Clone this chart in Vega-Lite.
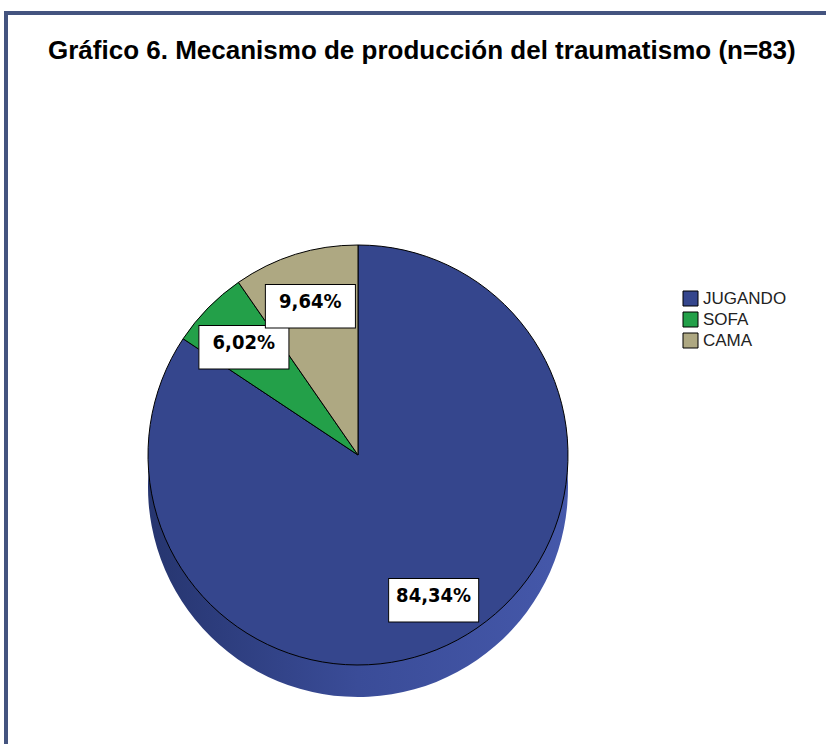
{
  "$schema": "https://vega.github.io/schema/vega-lite/v6.json",
  "autosize": {"type": "none"},
  "width": 823,
  "height": 734,
  "padding": {"left": 6, "top": 13, "right": -3, "bottom": -3},
  "background": "white",
  "view": {"stroke": "#44547f", "strokeWidth": 4, "fill": "white"},
  "config": {
    "view": {"stroke": "#44547f", "strokeWidth": 4},
    "font": "Liberation Sans"
  },
  "title": {
    "text": "Gráfico 6. Mecanismo de producción del traumatismo (n=83)",
    "anchor": "start",
    "frame": "group",
    "orient": "top",
    "baseline": "top",
    "offset": -51,
    "dx": 42,
    "font": "Liberation Sans",
    "fontSize": 26,
    "fontWeight": "bold",
    "color": "#000000"
  },
  "data": {
    "values": [
      {"categoria": "JUGANDO", "n": 70, "orden": 1, "etiqueta": "84,34%"},
      {"categoria": "SOFA", "n": 5, "orden": 2, "etiqueta": "6,02%"},
      {"categoria": "CAMA", "n": 8, "orden": 3, "etiqueta": "9,64%"}
    ]
  },
  "encoding": {
    "theta": {"field": "n", "type": "quantitative", "stack": true},
    "order": {"field": "orden", "type": "quantitative"}
  },
  "layer": [
    {
      "mark": {
        "type": "arc",
        "outerRadius": 210,
        "x": 352,
        "y": 442,
        "yOffset": 32,
        "strokeWidth": 0,
        "color": {
          "gradient": "linear",
          "x1": 0, "y1": 0, "x2": 1, "y2": 0,
          "stops": [
            {"offset": 0, "color": "#26356f"},
            {"offset": 0.5, "color": "#3a4c98"},
            {"offset": 1, "color": "#4558aa"}
          ]
        }
      }
    },
    {
      "mark": {
        "type": "arc",
        "outerRadius": 210,
        "x": 352,
        "y": 442,
        "stroke": "#000000",
        "strokeWidth": 1
      },
      "encoding": {
        "color": {
          "field": "categoria",
          "type": "nominal",
          "sort": ["JUGANDO", "SOFA", "CAMA"],
          "scale": {
            "domain": ["JUGANDO", "SOFA", "CAMA"],
            "range": ["#35468d", "#23a049", "#aea882"]
          },
          "legend": {
            "title": null,
            "orient": "none",
            "legendX": 676,
            "legendY": 277,
            "symbolType": "square",
            "symbolSize": 225,
            "symbolStrokeColor": "#000000",
            "symbolStrokeWidth": 1,
            "symbolOpacity": 1,
            "labelFont": "Liberation Sans",
            "labelFontSize": 17,
            "labelColor": "#222222",
            "rowPadding": 2,
            "labelOffset": 4
          }
        }
      }
    },
    {
      "mark": {
        "type": "text",
        "x": 352,
        "y": 442,
        "font": "DejaVu Sans",
        "fontSize": 118,
        "fill": "white",
        "stroke": "#000000",
        "strokeWidth": 1,
        "baseline": "middle",
        "align": "center"
      },
      "encoding": {
        "radius": {"value": 160},
        "text": {"value": "▬"}
      }
    },
    {
      "mark": {
        "type": "text",
        "x": 352,
        "y": 442,
        "font": "DejaVu Sans Condensed, Liberation Sans",
        "fontSize": 20,
        "fontWeight": "bold",
        "color": "#000000",
        "baseline": "middle",
        "align": "center"
      },
      "encoding": {
        "radius": {"value": 160},
        "text": {"field": "etiqueta"}
      }
    }
  ]
}
